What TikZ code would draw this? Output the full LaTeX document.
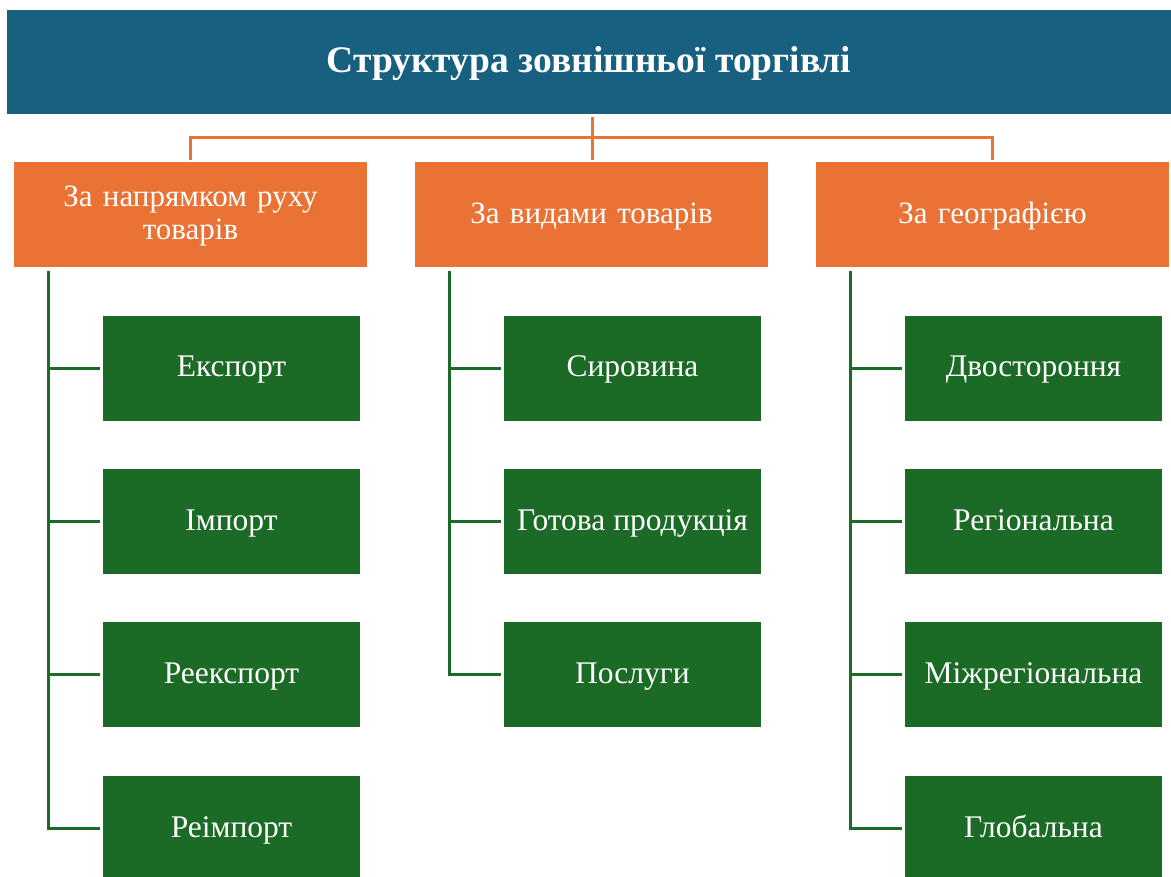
\documentclass[tikz,border=0pt]{standalone}
\usepackage{fontspec}
\setmainfont{Liberation Serif}
\definecolor{titleblue}{RGB}{23,96,127}
\definecolor{boxorange}{RGB}{233,114,52}
\definecolor{boxgreen}{RGB}{27,106,37}
\begin{document}
\begin{tikzpicture}[x=1pt,y=-1pt,
  titlebox/.style={fill=titleblue,text=white,minimum width=1164pt,minimum height=104pt,inner sep=0pt,text height=28pt,text depth=6pt,font=\fontsize{37.5}{42}\selectfont\bfseries},
  catbox/.style={fill=boxorange,text=white,minimum width=353pt,minimum height=105pt,inner sep=0pt,align=center,text width=320pt,text height=22pt,text depth=5pt,font=\fontsize{31}{33}\selectfont},
  leafbox/.style={fill=boxgreen,text=white,minimum width=257pt,minimum height=105pt,inner sep=0pt,text height=22pt,text depth=5pt,font=\fontsize{31.5}{34}\selectfont},
  oline/.style={draw=boxorange,line width=3pt},
  gline/.style={draw=boxgreen,line width=3pt}]
\useasboundingbox (0,0) rectangle (1171,877);
\clip (0,0) rectangle (1171,877);
\fill[white] (0,0) rectangle (1171,877);
% title
\node[titlebox] (title) at (589,62) {Структура зовнішньої торгівлі};
% categories
\node[catbox,text depth=38pt] (o1) at (190.5,215) {За напрямком руху\\товарів};
\node[catbox] (o2) at (591.5,215) {За видами товарів};
\node[catbox] (o3) at (992.5,215) {За географією};
% leaves column 1
\node[leafbox] (a1) at (231.5,368.5) {Експорт};
\node[leafbox] (a2) at (231.5,521.5) {Імпорт};
\node[leafbox] (a3) at (231.5,674.5) {Реекспорт};
\node[leafbox] (a4) at (231.5,828.5) {Реімпорт};
% leaves column 2
\node[leafbox] (b1) at (632.5,368.5) {Сировина};
\node[leafbox] (b2) at (632.5,521.5) {Готова продукція};
\node[leafbox] (b3) at (632.5,674.5) {Послуги};
% leaves column 3
\node[leafbox] (c1) at (1033.5,368.5) {Двостороння};
\node[leafbox] (c2) at (1033.5,521.5) {Регіональна};
\node[leafbox] (c3) at (1033.5,674.5) {Міжрегіональна};
\node[leafbox] (c4) at (1033.5,828.5) {Глобальна};
% orange connectors
\coordinate (bar) at (592,138);
\draw[oline,shorten <=3pt,shorten >=2pt] (title.south -| bar) -- (o2.north -| bar);
\draw[oline,shorten <=2pt,shorten >=2pt] (o1.north) -- (o1.north |- bar) -- (o3.north |- bar) -- (o3.north);
% green connectors
\coordinate (ta) at (48,271);
\coordinate (tb) at (449,271);
\coordinate (tc) at (850,271);
\draw[gline,shorten >=3pt] (ta) |- (a4.west);
\foreach \n in {a1,a2,a3} \draw[gline,shorten >=3pt] (ta |- \n.west) -- (\n.west);
\draw[gline,shorten >=3pt] (tb) |- (b3.west);
\foreach \n in {b1,b2} \draw[gline,shorten >=3pt] (tb |- \n.west) -- (\n.west);
\draw[gline,shorten >=3pt] (tc) |- (c4.west);
\foreach \n in {c1,c2,c3} \draw[gline,shorten >=3pt] (tc |- \n.west) -- (\n.west);
\end{tikzpicture}
\end{document}
